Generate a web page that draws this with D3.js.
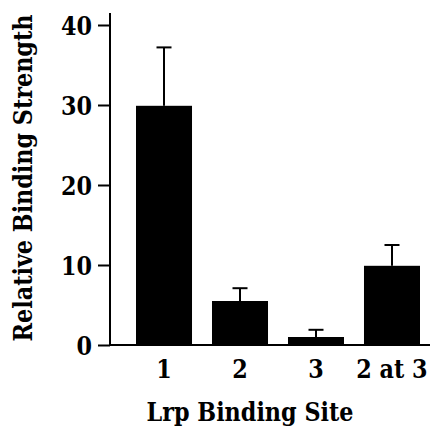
<!DOCTYPE html>
<html>
<head>
<meta charset="utf-8">
<script src="https://cdn.jsdelivr.net/npm/d3@7"></script>
<style>
  body { margin: 0; background: #fff; }
</style>
</head>
<body>
<svg id="chart" width="430" height="428"></svg>
<script>
// data
const sites = ["1", "2", "3", "2 at 3"];
const strength = [29.9, 5.5, 1.0, 9.9];
const errUpper = [37.2, 7.1, 1.9, 12.5];
const yTicks = [0, 10, 20, 30, 40];

const FONT = "'DejaVu Serif', 'Liberation Serif', serif";
const FS = 26;

const svg = d3.select("#chart");

const x = d3.scaleBand()
    .domain(sites)
    .range([126, 430])
    .paddingInner(0.263)
    .paddingOuter(0.1316);

const y = d3.scaleLinear()
    .domain([0, 40])
    .range([345, 25]);

// bars
svg.append("g")
    .selectAll("rect")
    .data(sites)
    .join("rect")
    .attr("x", d => x(d))
    .attr("width", x.bandwidth())
    .attr("y", (d, i) => y(strength[i]))
    .attr("height", (d, i) => y(0) - y(strength[i]))
    .attr("fill", "#000");

// upper error bars only
const err = svg.append("g")
    .attr("stroke", "#000")
    .attr("stroke-width", 2);

err.selectAll("line.stem")
    .data(sites)
    .join("line")
    .attr("class", "stem")
    .attr("x1", d => x(d) + x.bandwidth() / 2)
    .attr("x2", d => x(d) + x.bandwidth() / 2)
    .attr("y1", (d, i) => y(strength[i]))
    .attr("y2", (d, i) => y(errUpper[i]));

err.selectAll("line.cap")
    .data(sites)
    .join("line")
    .attr("class", "cap")
    .attr("x1", d => x(d) + x.bandwidth() / 2 - 7.5)
    .attr("x2", d => x(d) + x.bandwidth() / 2 + 7.5)
    .attr("y1", (d, i) => y(errUpper[i]))
    .attr("y2", (d, i) => y(errUpper[i]));

// y axis
const yAxis = svg.append("g")
    .attr("transform", "translate(110,0)")
    .call(d3.axisLeft(y).tickValues(yTicks).tickSize(12).tickPadding(6).tickSizeOuter(0));
yAxis.attr("font-family", FONT).attr("font-size", FS).attr("font-weight", "bold");
yAxis.select(".domain").remove();
yAxis.append("line")
    .attr("x1", 0).attr("x2", 0)
    .attr("y1", 13).attr("y2", y(0) + 1)
    .attr("stroke", "#000").attr("stroke-width", 2);
yAxis.selectAll(".tick line").attr("stroke-width", 2);
yAxis.selectAll(".tick text")
    .attr("dy", "0.36em");

// x axis
const xAxis = svg.append("g")
    .attr("transform", `translate(0,${y(0)})`)
    .call(d3.axisBottom(x).tickSize(0).tickPadding(15));
xAxis.attr("font-family", FONT).attr("font-size", FS).attr("font-weight", "bold");
xAxis.select(".domain").remove();
xAxis.append("line")
    .attr("x1", 110).attr("x2", 430)
    .attr("y1", 0).attr("y2", 0)
    .attr("stroke", "#000").attr("stroke-width", 2);
xAxis.selectAll(".tick text")
    .attr("dy", "0.71em");

// axis titles
const title = svg.append("text")
    .attr("x", 250)
    .attr("y", 421)
    .attr("text-anchor", "middle")
    .attr("font-family", FONT)
    .attr("font-weight", "bold")
    .attr("font-size", FS)
    .text("Lrp Binding Site");

svg.append("text")
    .attr("transform", "translate(32,178) rotate(-90)")
    .attr("text-anchor", "middle")
    .attr("font-family", FONT)
    .attr("font-weight", "bold")
    .attr("font-size", FS)
    .text("Relative Binding Strength");

// the original is set in a narrow Times-like bold; squeeze DejaVu Serif
// horizontally so the title comes out at the same width (207px)
const k = 207 / title.node().getComputedTextLength();
svg.selectAll("text").each(function () {
    const t = d3.select(this);
    const x0 = +t.attr("x") || 0;
    const tr = t.attr("transform") || "";
    t.attr("x", x0 / k)
        .attr("transform", `${tr} scale(${k},1)`.trim());
});
</script>
</body>
</html>
